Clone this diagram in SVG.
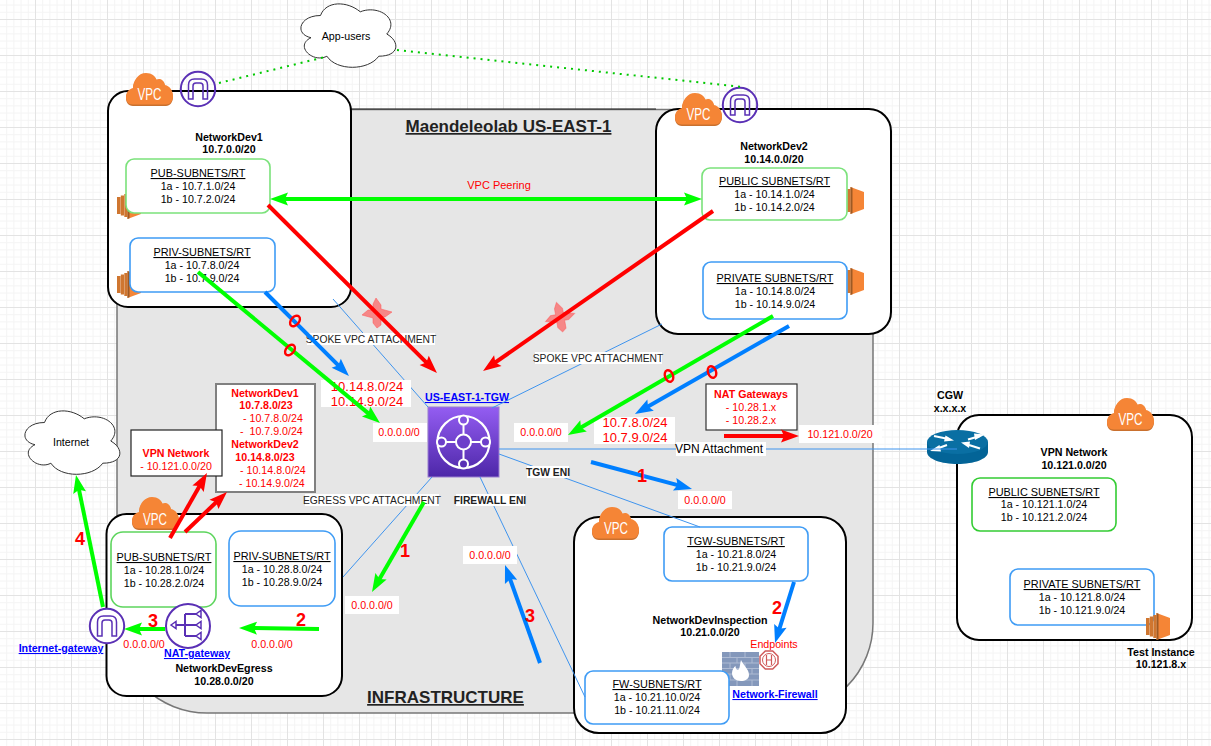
<svg xmlns="http://www.w3.org/2000/svg" xmlns:xlink="http://www.w3.org/1999/xlink" width="1211" height="746" viewBox="0 0 1211 746">
<style>
text{font-family:"Liberation Sans",Arial,sans-serif;font-size:10.67px;fill:#000;text-anchor:middle}
.b{font-weight:bold}
.t{font-size:10.9px;text-decoration:underline}
.ttl{font-weight:bold;text-decoration:underline;font-size:17px;fill:#222}
.l{fill:#0000ff;font-weight:bold;text-decoration:underline}
.r{fill:#ff0000}
.s{text-anchor:start}
.n{fill:#ff0000;font-weight:bold;font-size:18px}
.big{font-size:13px;fill:#ff0000}
.att{font-size:10.3px;fill:#222}
.v{fill:#fff;font-size:16.5px}
.box{fill:#fff;stroke:#000;stroke-width:2}
.g{fill:#fff;stroke:#7be27b;stroke-width:1.6}
.bl{fill:#fff;stroke:#3f9cf5;stroke-width:1.6}
.thin{fill:none;stroke:#3f94ee;stroke-width:1}
.dot{fill:none;stroke:#00c800;stroke-width:2;stroke-dasharray:2 5}
.bg{fill:#fff}
.a{fill:none;stroke-width:4}
.ar{stroke:#ff0000;marker-end:url(#mr)}
.ag{stroke:#00ff00;marker-end:url(#mg)}
.ab{stroke:#007fff;marker-end:url(#mb)}
.pu{fill:none;stroke:#5a30b5;stroke-width:2}
.o{fill:none;stroke:#ff0000;stroke-width:2.4}
.x{fill:#f55;fill-opacity:.65;stroke:#f55;stroke-opacity:.5;stroke-width:1}
</style>
<defs>
<pattern id="grid" width="36" height="36" patternUnits="userSpaceOnUse" patternTransform="translate(-1 19)">
<rect width="36" height="36" fill="#fff"/>
<path d="M7.7 0V36M14.9 0V36M22.1 0V36M29.3 0V36M0 7.7H36M0 14.9H36M0 22.1H36M0 29.3H36" stroke="#f5f5f5" stroke-width="1" fill="none"/>
<rect width="36" height="1" fill="#e3e3e3"/><rect width="1" height="36" fill="#e3e3e3"/>
</pattern>
<marker id="mr" markerUnits="userSpaceOnUse" markerWidth="18" markerHeight="13" refX="10" refY="6.5" orient="auto-start-reverse" overflow="visible"><path d="M0 0L18 6.5L0 13L3 6.5Z" fill="#ff0000"/></marker>
<marker id="mg" markerUnits="userSpaceOnUse" markerWidth="18" markerHeight="13" refX="10" refY="6.5" orient="auto-start-reverse" overflow="visible"><path d="M0 0L18 6.5L0 13L3 6.5Z" fill="#00ff00"/></marker>
<marker id="mb" markerUnits="userSpaceOnUse" markerWidth="18" markerHeight="13" refX="10" refY="6.5" orient="auto-start-reverse" overflow="visible"><path d="M0 0L18 6.5L0 13L3 6.5Z" fill="#007fff"/></marker>
<path id="cloud" d="M26.5 18.5C5.3 18.5 0 37 17 40.7C0 48.8 19 66.6 32.9 59.2C42.4 74 74.2 74 84.8 59.2C106 59.2 106 44.4 92.75 37C106 22.2 84.8 7.4 66.25 14.8C53 3.7 31.8 3.7 26.5 18.5Z" fill="#fff" stroke="#333" stroke-width="1"/>
<g id="vpc">
<path d="M7 33C2 33 0 29 0 25C0 20 3 17 7 16C7 9 12 1 20 1C26 1 29 4 30.500 7.500C33 6 38 7 39 13C44 14 47 19 47 24C47 29 44 33 40 33Z" fill="#c9702e"/>
<path d="M7 31.500C2 31.500 0 28 0 24C0 19 3 16 7 15C7 8 12 0 20 0C26 0 29 3 30.500 6.500C33 5 38 6 39 12C44 13 47 18 47 23C47 28 44 31.500 40 31.500Z" fill="#f58536"/>
</g>
<g id="ec2">
<path d="M0 5h3.500v17H0zM3.800 3.500h3.200v20H3.800zM7.300 2h3.200v23H7.300z" fill="#cf7630"/>
<path d="M10.500 0L24 5V22L10.500 27Z" fill="#f58536"/>
<path d="M10.500 0L12.500 0.800V26.200L10.500 27Z" fill="#9d5a24"/>
</g>
<g id="igw">
<circle r="17.200" class="pu"/>
<path d="M-9.500 10V-4Q-9.500 -10 -3.500 -10H3.500Q9.500 -10 9.500 -4V10H5V-3Q5 -6 2 -6H-2Q-5 -6 -5 -3V10Z" fill="none" stroke="#5a30b5" stroke-width="1.500"/>
</g>
<linearGradient id="tg" x1="0" y1="0" x2="0" y2="1"><stop offset="0" stop-color="#945df2"/><stop offset="1" stop-color="#4d27a8"/></linearGradient>
</defs>

<rect id="background" width="1211" height="746" fill="url(#grid)"/>

<g id="infrastructure">
<rect x="117" y="109.500" width="756" height="603.500" rx="90" ry="90" fill="#e6e6e6" stroke="#777" stroke-width="1.500"/>
<path d="M351 109H656" stroke="#222" stroke-width="1"/>
<text x="508.500" y="132" class="ttl">Maendeleolab US-EAST-1</text>
<text x="445.500" y="703" class="ttl">INFRASTRUCTURE</text>
</g>

<g id="app-users">
<use href="#cloud" x="294" y="-3"/>
<text x="346" y="40">App-users</text>
</g>

<g id="internet">
<use href="#cloud" x="18" y="404"/>
<text x="71" y="446">Internet</text>
</g>

<g id="network-dev1">
<rect x="108" y="91" width="243" height="216" rx="20" class="box"/>
<use href="#vpc" x="126" y="73"/>
<text x="149.500" y="100" class="v" textLength="24" lengthAdjust="spacingAndGlyphs">VPC</text>
<use href="#igw" x="198" y="89"/>
<text x="229" y="141" class="b">NetworkDev1</text>
<text x="229" y="153" class="b">10.7.0.0/20</text>
<use href="#ec2" x="117" y="192"/>
<use href="#ec2" x="117" y="271"/>
<rect x="126" y="159" width="144" height="54" rx="8" class="g"/>
<text x="198" y="177" class="t">PUB-SUBNETS/RT</text>
<text x="198" y="190">1a - 10.7.1.0/24</text>
<text x="198" y="203">1b - 10.7.2.0/24</text>
<rect x="130" y="238" width="145" height="54" rx="8" class="bl"/>
<text x="202" y="256" class="t">PRIV-SUBNETS/RT</text>
<text x="202" y="269">1a - 10.7.8.0/24</text>
<text x="202" y="282">1b - 10.7.9.0/24</text>
</g>

<g id="network-dev2">
<rect x="656" y="109" width="235" height="225" rx="22" class="box"/>
<use href="#vpc" x="675" y="93"/>
<text x="698.500" y="120" class="v" textLength="24" lengthAdjust="spacingAndGlyphs">VPC</text>
<use href="#igw" x="740" y="105"/>
<text x="774" y="150" class="b">NetworkDev2</text>
<text x="774" y="163" class="b">10.14.0.0/20</text>
<use href="#ec2" x="840" y="187"/>
<use href="#ec2" x="840" y="268"/>
<rect x="702" y="168" width="145" height="52" rx="8" class="g"/>
<text x="774.500" y="185" class="t">PUBLIC SUBNETS/RT</text>
<text x="774.500" y="198">1a - 10.14.1.0/24</text>
<text x="774.500" y="211">1b - 10.14.2.0/24</text>
<rect x="703" y="262" width="144" height="57" rx="8" class="bl"/>
<text x="775" y="282" class="t">PRIVATE SUBNETS/RT</text>
<text x="775" y="295">1a - 10.14.8.0/24</text>
<text x="775" y="308">1b - 10.14.9.0/24</text>
</g>

<g id="network-dev-egress">
<rect x="106.500" y="514" width="235.500" height="182" rx="20" class="box"/>
<use href="#vpc" x="132" y="497"/>
<text x="155" y="525" class="v" textLength="24" lengthAdjust="spacingAndGlyphs">VPC</text>
<rect x="111" y="532" width="105" height="75" rx="12" class="g" style="stroke:#5dd55d"/>
<text x="164" y="561" class="t">PUB-SUBNETS/RT</text>
<text x="164" y="574">1a - 10.28.1.0/24</text>
<text x="164" y="587">1b - 10.28.2.0/24</text>
<rect x="229" y="531" width="106" height="75" rx="12" class="bl"/>
<text x="282" y="560" class="t">PRIV-SUBNETS/RT</text>
<text x="282" y="573">1a - 10.28.8.0/24</text>
<text x="282" y="586">1b - 10.28.9.0/24</text>
<text x="224" y="672" class="b">NetworkDevEgress</text>
<text x="224" y="685" class="b">10.28.0.0/20</text>
</g>

<g id="internet-gateway">
<circle cx="107" cy="626" r="17.200" fill="#fff"/>
<use href="#igw" x="107" y="626"/>
<text x="61" y="652" class="l">Internet-gateway</text>
</g>

<g id="nat-gateway">
<circle cx="188" cy="626" r="22" fill="#fff" stroke="#5a30b5" stroke-width="2"/>
<path d="M175 625H185M185 614V636M185 614H197M185 625H197M185 636H197" fill="none" stroke="#5a30b5" stroke-width="2"/>
<path d="M171 625L176 621.500V628.500ZM201 610.500V617.500L196 614ZM201 621.500V628.500L196 625ZM201 632.500V639.500L196 636Z" fill="#fff" stroke="#5a30b5" stroke-width="1.500"/>
<text x="197" y="657" class="l">NAT-gateway</text>
</g>

<g id="network-dev-inspection">
<rect x="574" y="517" width="272" height="216" rx="25" class="box"/>
<use href="#vpc" x="592" y="507"/>
<text x="616" y="534" class="v" textLength="24" lengthAdjust="spacingAndGlyphs">VPC</text>
<rect x="664" y="527" width="144" height="54" rx="8" class="bl"/>
<text x="736" y="545" class="t">TGW-SUBNETS/RT</text>
<text x="736" y="558">1a - 10.21.8.0/24</text>
<text x="736" y="571">1b - 10.21.9.0/24</text>
<text x="710" y="624" class="b">NetworkDevInspection</text>
<text x="710" y="636" class="b">10.21.0.0/20</text>
</g>

<g id="network-firewall">
<rect x="722" y="652" width="37" height="34" fill="#8498bb"/>
<path d="M722 657.500H759M722 663H759M722 668.500H759M722 674H759M722 680H759M730 652V657.500M745 652V657.500M737 657.500V663M752 657.500V663M730 663V668.500M745 663V668.500M737 668.500V674M752 668.500V674M730 674V680M745 674V680M737 680V686M752 680V686" stroke="#aebbd3" stroke-width="1" fill="none"/>
<path d="M741 660C743 665 749 669 749 675C749 679 745 681 741 681C736 681 732 678 732 673C732 670 734 667 735.500 666C735.500 669 737.500 671 739 669C740 667 740 663 741 660Z" fill="#fff"/>
<path d="M765.300 651L772.700 651L778 656.300V663.700L772.700 669H765.300L760 663.700V656.300Z" fill="none" stroke="#d05a5a" stroke-width="1.500"/>
<circle cx="769" cy="660" r="6.500" fill="none" stroke="#d05a5a" stroke-width="1"/>
<path d="M766.500 655V665M771.500 655V665M766.500 660H771.500" fill="none" stroke="#d05a5a" stroke-width="1.200"/>
<text x="774" y="648" class="r">Endpoints</text>
<text x="775" y="698" class="l">Network-Firewall</text>
</g>

<g id="fw-subnets">
<rect x="585" y="671" width="144" height="53" rx="8" class="bl"/>
<text x="657" y="688" class="t">FW-SUBNETS/RT</text>
<text x="657" y="701">1a - 10.21.10.0/24</text>
<text x="657" y="714">1b - 10.21.11.0/24</text>
</g>

<g id="vpn-network">
<rect x="957" y="415" width="235" height="225" rx="22" class="box"/>
<use href="#vpc" x="1107" y="398"/>
<text x="1130.500" y="425" class="v" textLength="24" lengthAdjust="spacingAndGlyphs">VPC</text>
<text x="1074" y="456" class="b">VPN Network</text>
<text x="1074" y="469" class="b">10.121.0.0/20</text>
<rect x="972" y="478" width="144" height="53" rx="8" class="g" style="stroke:#33cc33"/>
<text x="1044" y="496" class="t">PUBLIC SUBNETS/RT</text>
<text x="1044" y="508">1a - 10.121.1.0/24</text>
<text x="1044" y="521">1b - 10.121.2.0/24</text>
<rect x="1010" y="569" width="144" height="56" rx="8" class="bl"/>
<text x="1082" y="588" class="t">PRIVATE SUBNETS/RT</text>
<text x="1082" y="601">1a - 10.121.8.0/24</text>
<text x="1082" y="614">1b - 10.121.9.0/24</text>
<use href="#ec2" x="1146" y="613"/>
<text x="1161" y="656" class="b">Test Instance</text>
<text x="1161" y="668" class="b">10.121.8.x</text>
</g>

<g id="cgw">
<path d="M927 442V452C927 459 941 464 957.500 464S988 459 988 452V442Z" fill="#036497"/>
<ellipse cx="957.500" cy="442" rx="30.500" ry="12" fill="#0a6fa3"/>
<path d="M934 436L946 438.500M980 436L968 439.500M936 449L947 445M980 448.500L969 445" stroke="#fff" stroke-width="2.200" fill="none"/>
<path d="M954 440.500L944 441.500L945.500 435.500ZM985 434.500L974 433.500L975 440ZM930 451L941 451.500L939.500 445ZM961 442.500L970 441.500L969 448Z" fill="#fff"/>
<text x="950" y="399" class="b">CGW</text>
<text x="950" y="412" class="b">x.x.x.x</text>
</g>

<g id="tgw">
<rect x="428" y="407" width="71" height="70" fill="url(#tg)" stroke="#9a7fd0" stroke-width="1"/>
<circle cx="463.500" cy="442" r="26" fill="none" stroke="#fff" stroke-width="2.200"/>
<path d="M463.500 421V463M442.500 442H484.500" stroke="#fff" stroke-width="2"/>
<circle cx="463.500" cy="442" r="7.500" fill="#6d3fca" stroke="#fff" stroke-width="2"/>
<circle cx="463.500" cy="420" r="4.500" fill="#8452e0" stroke="#fff" stroke-width="2"/>
<circle cx="463.500" cy="464" r="4.500" fill="#5a30b5" stroke="#fff" stroke-width="2"/>
<circle cx="441.500" cy="442" r="4.500" fill="#6d3fca" stroke="#fff" stroke-width="2"/>
<circle cx="485.500" cy="442" r="4.500" fill="#6d3fca" stroke="#fff" stroke-width="2"/>
<text x="467" y="401" class="l">US-EAST-1-TGW</text>
</g>

<g id="route-vpn-network">
<rect x="216" y="384" width="99" height="108" fill="#fff" stroke="#808080" stroke-width="2"/>
<text x="265" y="397" class="r b">NetworkDev1</text>
<text x="266" y="409" class="r b">10.7.8.0/23</text>
<text x="243" y="422" class="r s">- 10.7.8.0/24</text>
<text x="240" y="435" class="r s" xml:space="preserve">-  10.7.9.0/24</text>
<text x="265" y="448" class="r b">NetworkDev2</text>
<text x="265" y="461" class="r b">10.14.8.0/23</text>
<text x="240" y="474" class="r s">- 10.14.8.0/24</text>
<text x="239" y="487" class="r s">- 10.14.9.0/24</text>
<rect x="131" y="430" width="91" height="46" fill="#fff" stroke="#222" stroke-width="1.200"/>
<text x="176" y="457" class="r b">VPN Network</text>
<text x="176" y="470" class="r">- 10.121.0.0/20</text>
</g>

<g id="nat-gateways-note">
<rect x="706" y="384" width="91" height="46" fill="#fff" stroke="#333" stroke-width="1.200"/>
<text x="751" y="398" class="r b">NAT Gateways</text>
<text x="751" y="411" class="r">- 10.28.1.x</text>
<text x="751" y="424" class="r">- 10.28.2.x</text>
</g>

<g id="connectors">
<g id="thin-links">
<path class="thin" d="M333 299L428 407"/>
<path class="thin" d="M662 324L492 408"/>
<path class="thin" d="M499 449H957"/>
<path class="thin" d="M499 454L700 527"/>
<path class="thin" d="M480 477L585 697"/>
<path class="thin" d="M432 477L343 577"/>
<path class="dot" d="M219 83L325 57"/>
<path class="dot" d="M397 50L742 87"/>
</g>
<g id="link-labels">
<rect x="307" y="333" width="128" height="12" class="bg"/><text x="371" y="343" class="att">SPOKE VPC ATTACHMENT</text>
<rect x="535" y="352" width="127" height="12" class="bg"/><text x="598" y="362" class="att">SPOKE VPC ATTACHMENT</text>
<rect x="305" y="494" width="134" height="12" class="bg"/><text x="372" y="504" class="att">EGRESS VPC ATTACHMENT</text>
<rect x="527" y="466" width="42" height="12" class="bg"/><text x="548" y="476" class="att b">TGW ENI</text>
<rect x="456" y="494" width="69" height="12" class="bg"/><text x="490" y="504" class="att b">FIREWALL ENI</text>
<rect x="676" y="442" width="90" height="14" class="bg"/><text x="719" y="453" style="font-size:12px">VPN Attachment</text>
<text x="499" y="189" class="r" style="font-size:11px">VPC Peering</text>
<rect x="321" y="380" width="90" height="27" class="bg"/><text x="367" y="391" class="big">10.14.8.0/24</text><text x="367" y="406" class="big">10.14.9.0/24</text>
<rect x="594" y="417" width="81" height="27" class="bg"/><text x="635" y="427" class="big">10.7.8.0/24</text><text x="635" y="442" class="big">10.7.9.0/24</text>
<rect x="373" y="423" width="54" height="19" class="bg"/><text x="399" y="436" class="r">0.0.0.0/0</text>
<rect x="514" y="423" width="54" height="19" class="bg"/><text x="541" y="436" class="r">0.0.0.0/0</text>
<rect x="678" y="491" width="54" height="18" class="bg"/><text x="705" y="504" class="r">0.0.0.0/0</text>
<rect x="345" y="596" width="54" height="18" class="bg"/><text x="372" y="609" class="r">0.0.0.0/0</text>
<rect x="463" y="546" width="54" height="18" class="bg"/><text x="490" y="559" class="r">0.0.0.0/0</text>
<text x="144" y="648" class="r">0.0.0.0/0</text>
<text x="272" y="648" class="r">0.0.0.0/0</text>
<rect x="799" y="425" width="83" height="18" class="bg"/><text x="840" y="438" class="r">10.121.0.0/20</text>
</g>
<g id="blocked-marks">
<path class="x" transform="translate(377 313)" d="M-4 -9L-1 -15L4 -8L4 -4L15 -1L8 4L4 4L4 12L0 15L-4 10L-4 5L-15 2L-9 -3L-4 -3Z"/>
<path class="x" transform="translate(560 317) rotate(-10)" d="M-4 -9L-1 -15L4 -8L4 -4L15 -1L8 4L4 4L4 12L0 15L-4 10L-4 5L-15 2L-9 -3L-4 -3Z"/>
</g>
<g id="flow-arrows">
<path class="a ar" d="M268 205L431.300 367.400"/>
<path class="a ar" d="M713 211L489.600 366.400"/>
<path class="a ar" d="M170 538L203 480"/>
<path class="a ar" d="M185 532L221.200 497.500"/>
<path class="a ar" d="M724 436H791"/>
<path class="a ag" style="marker-start:url(#mg)" d="M278 199H694"/>
<path class="a ag" d="M198 272L373.800 417.900"/>
<path class="a ag" d="M773 316L574.900 431"/>
<path class="a ag" d="M424 502L376 585"/>
<path class="a ag" d="M319 629L247 628"/>
<path class="a ag" d="M165 629H132"/>
<path class="a ag" d="M103 607L77.600 482.800"/>
<path class="a ab" d="M265 292L343.300 370.300"/>
<path class="a ab" d="M789 326L641.900 410"/>
<path class="a ab" d="M591 462L684.300 486.900"/>
<path class="a ab" d="M794 582L777.400 635.400"/>
<path class="a ab" d="M540 663L507.700 572.500"/>
</g>
<g id="flow-marks">
<ellipse class="o" cx="295" cy="321" rx="4" ry="6" transform="rotate(40 295 321)"/>
<ellipse class="o" cx="290" cy="350" rx="4" ry="6" transform="rotate(40 290 350)"/>
<ellipse class="o" cx="669" cy="376" rx="4" ry="6" transform="rotate(-20 669 376)"/>
<ellipse class="o" cx="712" cy="372" rx="4" ry="6" transform="rotate(-20 712 372)"/>
<text x="405" y="557" class="n">1</text>
<text x="301" y="626" class="n">2</text>
<text x="153" y="627" class="n">3</text>
<text x="80" y="545" class="n">4</text>
<text x="642" y="482" class="n">1</text>
<text x="777" y="614" class="n">2</text>
<text x="530" y="622" class="n">3</text>
</g>
</g>
</svg>
